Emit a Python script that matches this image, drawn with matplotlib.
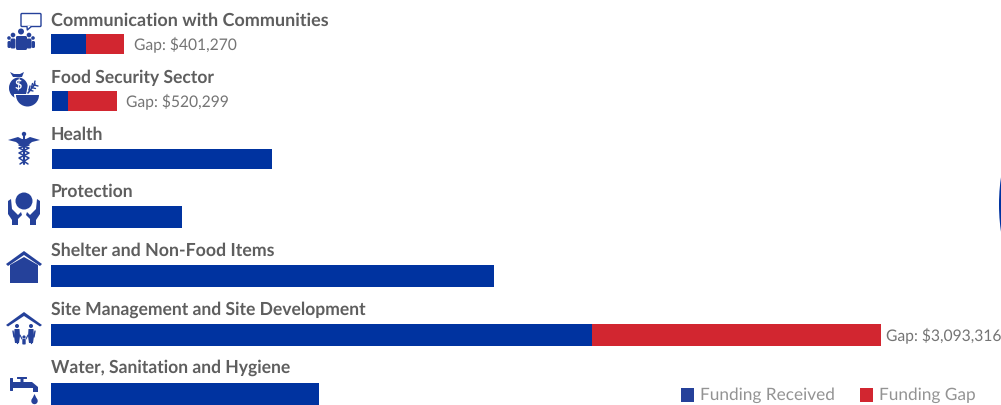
import matplotlib
matplotlib.use('Agg')
import matplotlib.pyplot as plt
from matplotlib.patches import Circle, Ellipse, FancyBboxPatch, Polygon, Rectangle, Wedge

plt.rcParams['text.hinting'] = 'no_hinting'

# funding per sector, in US dollars
sectors = ['Communication with Communities', 'Food Security Sector', 'Health', 'Protection',
           'Shelter and Non-Food Items', 'Site Management and Site Development',
           'Water, Sanitation and Hygiene']
received = [377000, 172000, 2355000, 1391000, 4741000, 5790000, 2868000]
gap = [401270, 520299, 0, 0, 0, 3093316, 0]

BAR_BLUE = '#0033a0'
RED = '#d22630'
ICON_BLUE = '#25419a'
LABEL_GREY = '#5e5e5e'
GAP_GREY = '#747474'
LEGEND_GREY = '#939393'

# row layout in pixels
row_lefts = [51, 52, 52, 52, 51, 51, 51]
row_centres = [44, 101, 159, 217, 276, 335, 394]
bar_heights = [20, 20, 20, 22, 22, 22, 22]
title_y = [21, 78, 135, 192, 251, 309.5, 368]
title_sizes = [12.95, 12.65, 12.65, 12.65, 12.8, 12.65, 12.65]
gap_pads = [10, 9.5, 0, 0, 0, 5, 0]
DOLLARS_PER_PX = 10703

fig = plt.figure(figsize=(10.01, 4.05), dpi=100)
ax = fig.add_axes([0, 0, 1, 1])
ax.set_xlim(0, 1001 * DOLLARS_PER_PX)
ax.set_ylim(405, 0)
ax.axis('off')

starts = [px * DOLLARS_PER_PX for px in row_lefts]
ax.barh(row_centres, received, left=starts, height=bar_heights, color=BAR_BLUE, linewidth=0)
ax.barh(row_centres, gap, left=[s + r for s, r in zip(starts, received)], height=bar_heights,
        color=RED, linewidth=0)

for i, name in enumerate(sectors):
    ax.text(51 * DOLLARS_PER_PX, title_y[i], name, family='Lato', weight='bold', fontsize=title_sizes[i],
            color=LABEL_GREY, va='center', ha='left')
    if gap[i] > 0:
        end = starts[i] + received[i] + gap[i]
        ax.text(end + gap_pads[i] * DOLLARS_PER_PX, row_centres[i] + 0.5, f'Gap: ${gap[i]:,}',
                family='Lato', fontsize=11.25, color=GAP_GREY, va='center', ha='left')

# overlay in pixel coordinates for icons and the legend
ov = fig.add_axes([0, 0, 1, 1])
ov.set_xlim(0, 1001)
ov.set_ylim(405, 0)
ov.axis('off')
ov.patch.set_alpha(0)


def poly(pts, **kw):
    kw.setdefault('color', ICON_BLUE)
    kw.setdefault('linewidth', 0)
    ov.add_patch(Polygon(pts, closed=True, **kw))


def disc(x, y, r, color=ICON_BLUE):
    ov.add_patch(Circle((x, y), r, color=color, linewidth=0))


def line(xs, ys, lw=1.5, color=ICON_BLUE):
    ov.plot(xs, ys, color=color, lw=lw, solid_capstyle='round')


def block(x, y, w, h, r=1.5, color=ICON_BLUE):
    ov.add_patch(FancyBboxPatch((x + r, y + r), w - 2 * r, h - 2 * r, boxstyle=f'round,pad={r}',
                                color=color, linewidth=0))


# communication: speech bubble above a group of people
ov.add_patch(FancyBboxPatch((22, 14.5), 18, 11, boxstyle='round,pad=1', fc='white',
                            ec=ICON_BLUE, lw=1))
poly([(27, 26), (31, 26), (27.5, 30)], color='white')
line([27, 27.3, 31], [26.5, 30, 26.8], lw=1)
disc(21, 31.5, 3)
block(16, 36, 11, 14)
for x in (13, 29):
    disc(x, 35, 2.3)
    block(x - 2.5, 38.5, 5, 10)
for x in (9, 33):
    disc(x, 38, 1.8)
    block(x - 1.5, 41, 3.5, 7)

# food security: money bag, bowl and wheat
poly([(10, 72), (14, 74), (20, 74), (24, 72), (22, 77), (13, 77)])
ov.add_patch(Ellipse((18.5, 88), 19, 21, color=ICON_BLUE, linewidth=0))
ov.text(18.5, 86, '$', family='Lato', weight='bold', fontsize=9, color='white', ha='center', va='center')
poly([(26, 95), (28, 84), (38, 84), (38, 95)], color='white')
ov.add_patch(Wedge((27.5, 94), 13.5, 0, 180, color='white', linewidth=0))
ov.add_patch(Wedge((27.5, 95), 11.5, 0, 180, color=ICON_BLUE, linewidth=0))
line([28, 35], [93, 84], lw=1.2)
for d in (0, 2.5, 5):
    line([29 + d, 33 + d], [90 - d, 91 - d], lw=1)
    line([29 + d, 30 + d], [90 - d, 86 - d], lw=1)

# health: caduceus
poly([(8, 140), (18, 137), (22, 139), (26, 139), (30, 137), (40, 140), (32, 142), (27, 146),
     (21, 146), (16, 142)])
disc(24, 134, 2.2)
line([24, 24], [136, 164], lw=1.5)
line([19, 29, 19, 29, 20], [145, 148, 153, 158, 164], lw=1.1)
line([29, 19, 29, 19, 28], [145, 148, 153, 158, 164], lw=1.1)

# protection: ball held by two hands
disc(24, 201, 8.5)
poly([(8, 201), (11, 199), (12, 209), (18, 215), (21, 212), (22, 215), (18, 219), (18, 225),
     (12, 225), (12, 220), (8, 214)])
poly([(40, 201), (37, 199), (36, 209), (30, 215), (27, 212), (26, 215), (30, 219), (30, 225),
     (36, 225), (36, 220), (40, 214)])

# shelter
poly([(6, 264), (24, 251), (42, 264), (40, 266), (24, 255), (8, 266)])
poly([(10, 265), (24, 257), (38, 265), (38, 283), (10, 283)])

# site management: roof above a family
poly([(6, 325), (24, 312), (42, 325), (40, 326.5), (24, 316), (8, 326.5)])
for x in (17, 31):
    disc(x, 326, 2)
    poly([(x - 2.5, 329), (x + 2.5, 329), (x + 3, 336), (x + 2, 343), (x - 2, 343), (x - 3, 336)])
    line([x, x], [340, 343], lw=1)
disc(24, 337, 1.6)
block(22.3, 339, 3.4, 5.5, r=0.8)
line([13, 14], [331, 337], lw=1)
line([35, 34], [331, 337], lw=1)
line([20, 22], [335, 339], lw=0.8)
line([28, 26], [335, 339], lw=0.8)

# water: tap with a drop
block(10, 378, 3, 13, r=0.5)
poly([(12, 382), (32, 382), (38, 387), (38, 392), (33, 392), (33, 388), (12, 388)])
block(17, 377, 10, 2, r=0.5)
block(20.5, 378, 3, 5, r=0.3)
disc(34.5, 401, 3.2)
poly([(34.5, 394), (31.6, 400), (37.4, 400)])

# part of a circle entering at the right edge
ov.add_patch(Ellipse((1040, 204.5), 82, 178, color=BAR_BLUE, linewidth=0))

# legend
ov.add_patch(Rectangle((681, 388), 13, 14, color=ICON_BLUE, linewidth=0))
ov.add_patch(Rectangle((860, 388), 13, 14, color=RED, linewidth=0))
ov.text(700, 395.5, 'Funding Received', family='Lato', fontsize=12.45, color=LEGEND_GREY,
        va='center', ha='left')
ov.text(879, 395.5, 'Funding Gap', family='Lato', fontsize=12.45, color=LEGEND_GREY,
        va='center', ha='left')

fig.savefig('out.png', dpi=100)
